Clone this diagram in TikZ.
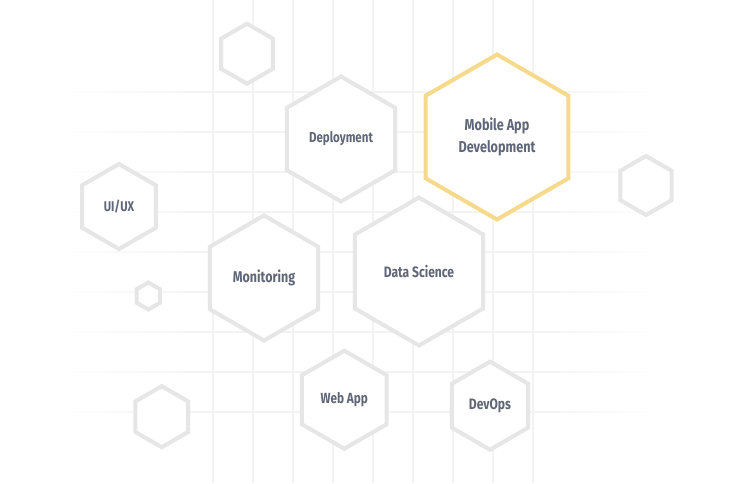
\documentclass[tikz,border=0pt]{standalone}
\usepackage{fontspec}
\setmainfont{Fira Sans}[FakeStretch=0.8]
\usetikzlibrary{shapes.geometric}
\definecolor{gridc}{HTML}{F3F3F3}
\definecolor{hexc}{HTML}{E6E6E6}
\definecolor{gold}{HTML}{F7D98B}
\definecolor{txt}{HTML}{5F6677}
\begin{document}
\begin{tikzpicture}[x=1pt,y=-1pt,
  hexbox/.style={regular polygon, regular polygon sides=6, shape border rotate=30,
    draw=hexc, line width=4pt, fill=white, inner sep=0pt, outer sep=0pt,
    minimum size=#1, text=txt, align=center},
  goldhex/.style={hexbox=#1, draw=gold},
  fs/.style={font=\bfseries\fontsize{#1}{22}\selectfont},
  gridline/.style={gridc, line width=1.1pt}]
\useasboundingbox (0,0) rectangle (746,483);
\fill[white] (0,0) rectangle (746,483);
% grid
\foreach \x in {213,253,...,533} \draw[gridline] (\x,0) -- (\x,483);
\foreach \y in {92,132,...,412} {
  \fill[gridc] (213,\y-0.55) rectangle (533,\y+0.55);
  \shade[left color=white, right color=gridc] (50,\y-0.55) rectangle (213,\y+0.55);
  \shade[left color=gridc, right color=white] (533,\y-0.55) rectangle (665,\y+0.55);
}
% hexagons
\node[hexbox=60]  (h1)  at (247,53.7)  {};
\node[hexbox=125, fs=14.4] (dep) at (341,139)   {Deployment};
\node[goldhex=165, fs=15.8] (mob) at (497,137)  {\raisebox{-3pt}{\begin{tabular}{@{}c@{}}Mobile App\\Development\end{tabular}}};
\node[hexbox=59]  (h2)  at (646,185.5) {};
\node[hexbox=85, fs=14.1]  (ui)  at (119,206.5) {UI/UX};
\node[hexbox=125, fs=15.6] (mon) at (264,278)   {Monitoring};
\node[hexbox=148, fs=15.1] (ds)  at (419,271.5) {Data Science};
\node[hexbox=27] (h3) at (148.3,296) {};
\node[hexbox=61] (h4) at (161.7,416.7) {};
\node[hexbox=98, fs=14.7] (web) at (344.3,399.7) {Web App};
\node[hexbox=88, fs=15.1]  (dev) at (490,405.7) {DevOps};
\end{tikzpicture}
\end{document}
